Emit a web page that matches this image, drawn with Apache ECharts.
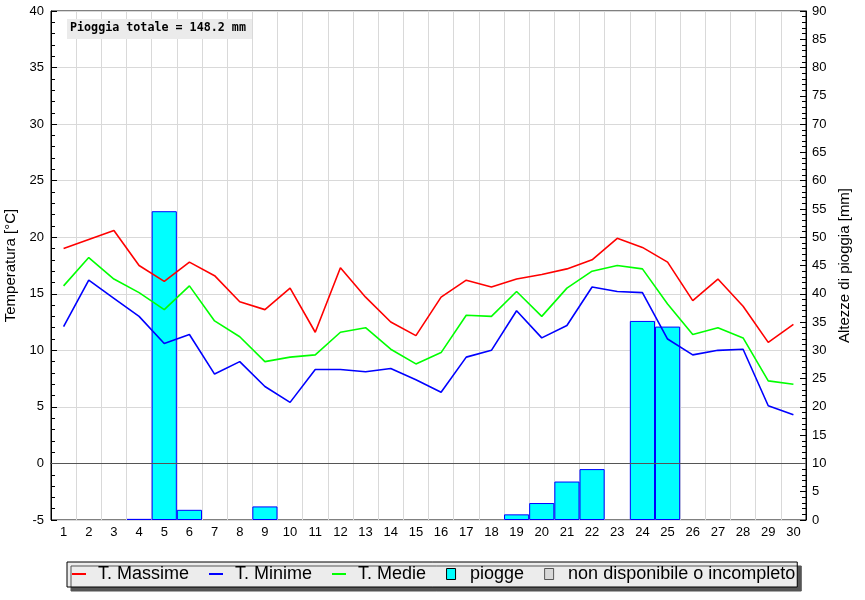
<!DOCTYPE html>
<html><head><meta charset="utf-8">
<script src="https://cdn.jsdelivr.net/npm/echarts@6/dist/echarts.min.js"></script>
<style>html,body{margin:0;padding:0;background:#fff}#c{width:865px;height:600px}</style>
</head><body><div id="c"></div>
<script>
const days = ['1','2','3','4','5','6','7','8','9','10','11','12','13','14','15','16','17','18','19','20','21','22','23','24','25','26','27','28','29','30'];
const tMax = [19.0,19.8,20.6,17.5,16.1,17.8,16.6,14.3,13.6,15.5,11.6,17.3,14.7,12.5,11.3,14.7,16.2,15.6,16.3,16.7,17.2,18.0,19.9,19.1,17.8,14.4,16.3,13.9,10.7,12.3];
const tMin = [12.1,16.2,14.6,13.0,10.6,11.4,7.9,9.0,6.8,5.4,8.3,8.3,8.1,8.4,7.4,6.3,9.4,10.0,13.5,11.1,12.2,15.6,15.2,15.1,11.0,9.6,10.0,10.1,5.1,4.3];
const tMed = [15.7,18.2,16.3,15.1,13.6,15.7,12.6,11.2,9.0,9.4,9.6,11.6,12.0,10.1,8.8,9.8,13.1,13.0,15.2,13.0,15.5,17.0,17.5,17.2,14.1,11.4,12.0,11.1,7.3,7.0];
const rain = [null,null,null,0.2,54.6,1.8,null,null,2.4,null,null,null,null,null,null,null,null,null,1.0,3.0,6.8,9.0,null,35.2,34.2,null,null,null,null,null];
const seriesNames = ['T. Massime','T. Minime','T. Medie','piogge','non disponibile o incompleto'];
const totalRain = rain.reduce((s,v)=>s+(v||0),0);

const FONT = '"Liberation Sans", Arial, sans-serif';
const chart = echarts.init(document.getElementById('c'), null, {renderer:'canvas'});
const lineSeries = (name, data, color, extra) => Object.assign({
  name, type:'line', data, yAxisIndex:0, symbol:'none', showSymbol:false, z:5,
  lineStyle:{color, width:1.6}, itemStyle:{color}, animation:false
}, extra||{});
const LINE_ICON = 'path://M0,0h14v2h-14z';
const BOX_ICON = 'path://M0,0h9v11h-9z';

chart.setOption({
  animation:false,
  textStyle:{fontFamily:FONT},
  grid:{left:51, right:59, top:11, bottom:80, show:true, borderColor:'#000', borderWidth:1,
        backgroundColor:'transparent', containLabel:false, outerBoundsMode:'none'},
  xAxis:{
    type:'category', data:days, boundaryGap:true,
    axisLine:{lineStyle:{color:'#000'}},
    axisTick:{inside:true, length:5, lineStyle:{color:'#000'}},
    axisLabel:{color:'#000', fontSize:13, margin:6, fontFamily:FONT, interval:0},
    splitLine:{show:true, lineStyle:{color:'#d9d9d9', width:1}}
  },
  yAxis:[{
    type:'value', min:-5, max:40, interval:5, position:'left',
    name:'Temperatura [°C]', nameLocation:'middle', nameRotate:90, nameGap:30,
    nameTextStyle:{color:'#000', fontSize:15, fontFamily:FONT},
    axisLine:{show:true, lineStyle:{color:'#000'}},
    axisTick:{show:true, inside:true, length:6, lineStyle:{color:'#000'}},
    minorTick:{show:true, splitNumber:5, length:4, lineStyle:{color:'#000'}},
    axisLabel:{color:'#000', fontSize:13, margin:7, fontFamily:FONT},
    splitLine:{show:true, lineStyle:{color:'#d9d9d9', width:1}}
  },{
    type:'value', min:0, max:90, interval:5, position:'right',
    name:'Altezze di pioggia [mm]', nameLocation:'middle', nameRotate:90, nameGap:26,
    nameTextStyle:{color:'#000', fontSize:15, fontFamily:FONT},
    axisLine:{show:true, lineStyle:{color:'#000'}},
    axisTick:{show:true, inside:true, length:6, lineStyle:{color:'#000'}},
    minorTick:{show:true, splitNumber:5, length:4, lineStyle:{color:'#000'}},
    axisLabel:{color:'#000', fontSize:13, margin:6, fontFamily:FONT},
    splitLine:{show:false}
  }],
  legend:{
    left:67, top:562, orient:'horizontal',
    backgroundColor:'#ececec', borderColor:'#000', borderWidth:1,
    shadowColor:'#555', shadowOffsetX:4, shadowOffsetY:4, shadowBlur:0,
    padding:[3,2,4,5], itemGap:20, itemWidth:14, itemHeight:11,
    textStyle:{color:'#000', fontSize:18, fontFamily:FONT, padding:[0,0,0,7]},
    selectedMode:false,
    data:[
      {name:seriesNames[0], icon:LINE_ICON, itemStyle:{color:'#ff0000'}},
      {name:seriesNames[1], icon:LINE_ICON, itemStyle:{color:'#0000ff'}},
      {name:seriesNames[2], icon:LINE_ICON, itemStyle:{color:'#00ff00'}},
      {name:seriesNames[3], icon:BOX_ICON, itemStyle:{color:'#00ffff', borderColor:'#000', borderWidth:1}},
      {name:seriesNames[4], icon:BOX_ICON, itemStyle:{color:'#d3d3d3', borderColor:'#333', borderWidth:1}}
    ]
  },
  graphic:[
    {type:'rect', left:67, top:19, z:100, shape:{width:185, height:20}, style:{fill:'#ebebeb'}},
    {type:'text', left:70, top:22, z:101, style:{text:'Pioggia totale = ' + totalRain.toFixed(1) + ' mm', font:'bold 11.7px "DejaVu Sans Mono", monospace', fill:'#000'}}
  ],
  series:[
    {name:seriesNames[3], type:'bar', yAxisIndex:1, data:rain, barCategoryGap:'0%', barGap:'0%', z:2,
     itemStyle:{color:'#00ffff', borderColor:'#0000ff', borderWidth:1}},
    {name:seriesNames[4], type:'scatter', yAxisIndex:1, data:[], itemStyle:{color:'#d3d3d3'}},
    lineSeries(seriesNames[0], tMax, '#ff0000', {markLine:{silent:true, symbol:'none', label:{show:false}, z:4,
      lineStyle:{color:'#555', width:1, type:'solid'}, data:[{yAxis:0}]}}),
    lineSeries(seriesNames[1], tMin, '#0000ff'),
    lineSeries(seriesNames[2], tMed, '#00ff00')
  ]
});
</script>
</body></html>
